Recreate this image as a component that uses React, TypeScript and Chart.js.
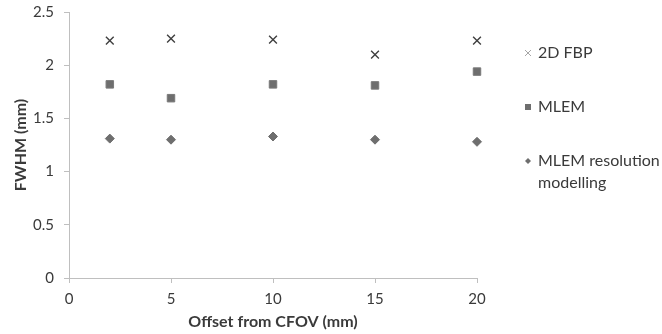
import React, { useEffect, useRef } from "react";
import { Chart, registerables } from "chart.js";

Chart.register(...registerables);

// Offsets from the centre of the field of view (mm)
const offsets = [2, 5, 10, 15, 20];
// FWHM values (mm) per reconstruction method
const fbp2d = [2.23, 2.25, 2.24, 2.1, 2.23];
const mlem = [1.82, 1.69, 1.82, 1.81, 1.94];
const mlemRm = [1.31, 1.3, 1.33, 1.3, 1.28];
const seriesLabels = ["2D FBP", "MLEM", "MLEM resolution modelling"];
const legendLines = [["2D FBP"], ["MLEM"], ["MLEM resolution", "modelling"]];

const FONT = "Lato, 'Open Sans', sans-serif";
const TEXT = "#3a3a3a";
const AXIS = "#bfbfbf";

// Draws a legend to the right of the plot, with wrapped labels
const sideLegend = {
  id: "sideLegend",
  afterDraw(chart: any) {
    const ctx = chart.ctx;
    const x0 = 528;
    const rows = [53, 107, 161];
    ctx.save();
    ctx.font = `16px ${FONT}`;
    ctx.fillStyle = TEXT;
    ctx.textBaseline = "middle";
    chart.data.datasets.forEach((ds: any, i: number) => {
      const y = rows[i];
      ctx.save();
      ctx.strokeStyle = ds.legendColor;
      ctx.fillStyle = ds.legendColor;
      ctx.lineWidth = 1;
      ctx.beginPath();
      if (ds.pointStyle === "crossRot") {
        ctx.moveTo(x0 - 3, y - 3);
        ctx.lineTo(x0 + 3, y + 3);
        ctx.moveTo(x0 - 3, y + 3);
        ctx.lineTo(x0 + 3, y - 3);
        ctx.stroke();
      } else if (ds.pointStyle === "rect") {
        ctx.fillRect(x0 - 3, y - 3, 6, 6);
      } else {
        ctx.moveTo(x0, y - 3);
        ctx.lineTo(x0 + 3, y);
        ctx.lineTo(x0, y + 3);
        ctx.lineTo(x0 - 3, y);
        ctx.closePath();
        ctx.fill();
      }
      ctx.restore();
      legendLines[i].forEach((line, j) => {
        ctx.fillText(line, x0 + 10, y + j * 22);
      });
    });
    ctx.restore();
  },
};

export default function App() {
  const ref = useRef<HTMLCanvasElement>(null);

  useEffect(() => {
    if (!ref.current) return;
    const mk = (vals: number[]) => offsets.map((x, i) => ({ x, y: vals[i] }));
    const chart = new Chart(ref.current, {
      type: "scatter",
      data: {
        datasets: [
          {
            label: seriesLabels[0],
            data: mk(fbp2d),
            pointStyle: "crossRot",
            pointRadius: 5.5,
            borderColor: "#404040",
            backgroundColor: "#404040",
            borderWidth: 1.4,
            legendColor: "#a6a6a6",
          } as any,
          {
            label: seriesLabels[1],
            data: mk(mlem),
            pointStyle: "rect",
            pointRadius: 5.3,
            borderColor: "#7a7a7a",
            backgroundColor: "#6e6e6e",
            borderWidth: 1,
            legendColor: "#6e6e6e",
          } as any,
          {
            label: seriesLabels[2],
            data: mk(mlemRm),
            pointStyle: "rectRot",
            pointRadius: 4.5,
            borderColor: "#6e6e6e",
            backgroundColor: "#6e6e6e",
            borderWidth: 1,
            legendColor: "#6e6e6e",
          } as any,
        ],
      },
      options: {
        animation: false,
        responsive: false,
        maintainAspectRatio: false,
        clip: false,
        layout: { padding: { left: 0, right: 185, top: 0, bottom: 0 } },
        plugins: {
          legend: { display: false },
          tooltip: { enabled: false },
        },
        scales: {
          x: {
            type: "linear",
            min: 0,
            max: 20,
            ticks: { stepSize: 5, color: TEXT, font: { family: FONT, size: 15 }, padding: 7 },
            grid: { drawOnChartArea: false, drawTicks: true, tickLength: 5, color: AXIS },
            border: { color: AXIS },
            title: {
              display: true,
              text: "Offset from CFOV (mm)",
              color: TEXT,
              font: { family: FONT, size: 16, weight: "bold" },
              padding: { top: 2, bottom: 3 },
            },
            afterFit(scale: any) {
              scale.height = 56;
            },
          },
          y: {
            min: 0,
            max: 2.5,
            ticks: {
              stepSize: 0.5,
              color: TEXT,
              font: { family: FONT, size: 15 },
              padding: 10,
              callback: (v: any) => String(Number(v)),
            },
            grid: { drawOnChartArea: false, drawTicks: true, tickLength: 5, color: AXIS },
            border: { color: AXIS },
            title: {
              display: true,
              text: "FWHM (mm)",
              color: TEXT,
              font: { family: FONT, size: 16, weight: "bold" },
              padding: { top: 11, bottom: 4 },
            },
            afterFit(scale: any) {
              scale.width = 69;
              scale.paddingTop = 12;
            },
          },
        },
      } as any,
      plugins: [sideLegend],
    });
    return () => chart.destroy();
  }, []);

  return (
    <div style={{ position: "fixed", left: 0, top: 0, width: 662, height: 334, background: "#fff" }}>
      <canvas ref={ref} width={662} height={334} style={{ display: "block" }} />
    </div>
  );
}
